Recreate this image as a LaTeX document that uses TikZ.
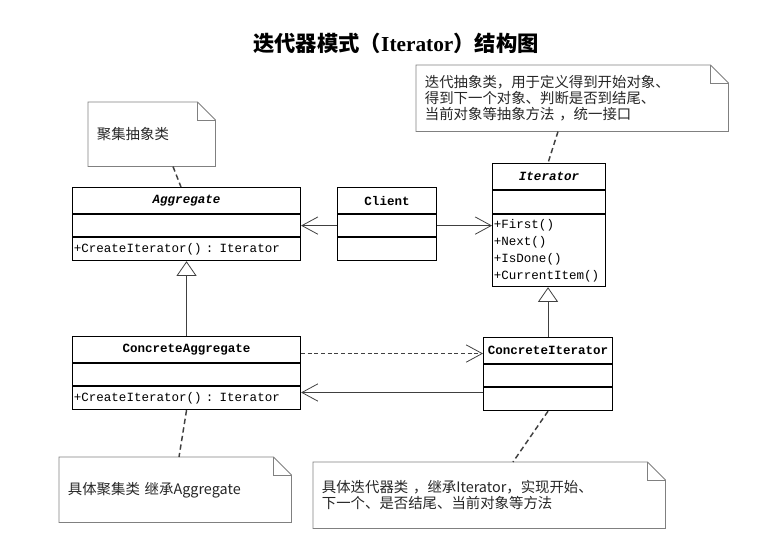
\documentclass[tikz,border=0pt]{standalone}
\usepackage{fontspec}
\setmainfont{Liberation Serif}
\setmonofont{Liberation Mono}
\newfontfamily\cjk{Noto Sans CJK SC}
\usetikzlibrary{arrows.meta,calc,positioning}

\definecolor{noteline}{gray}{0.5}
\definecolor{linkline}{gray}{0.25}
\definecolor{notetext}{gray}{0.15}

\newcommand{\umlfont}{\ttfamily\fontsize{9.4}{12.75}\selectfont}
\newcommand{\notefont}{\cjk\fontsize{10.8}{12}\selectfont}

\tikzset{
  navtip/.tip={Straight Barb[length=12pt,width=13pt]},
  gentip/.tip={Triangle[open,length=11pt,width=15pt]},
  classname/.style={draw, line width=0.8pt, anchor=north west, inner sep=0pt,
    minimum height=19.5pt, font=\umlfont\bfseries},
  classpart/.style={draw, line width=0.8pt, anchor=north west, inner sep=0pt,
    minimum height=16.5pt},
  classops/.style={draw, line width=0.8pt, anchor=north west, inner xsep=1pt,
    inner ysep=0pt, minimum height=17.25pt, align=left, font=\umlfont},
  notebox/.style={anchor=north west, inner xsep=6.5pt, inner ysep=0pt,
    align=left, font=\notefont, text=notetext},
  notebody/.style={draw=noteline, line width=0.6pt},
  notelink/.style={draw=linkline, line width=1.1pt, dash pattern=on 4pt off 2.5pt},
  assoc/.style={draw=linkline, line width=0.6pt, -navtip},
  depend/.style={draw=linkline, line width=0.6pt, dash pattern=on 3pt off 2pt, -navtip},
  inherit/.style={draw=linkline, line width=0.6pt, -gentip}
}

\begin{document}
\begin{tikzpicture}[x=0.75pt, y=-0.75pt]
    \useasboundingbox (0,0) rectangle (779,549);

    % Title
    \node (title) at (396,43) {\fontsize{16}{18}\selectfont\bfseries
        {\cjk 迭代器模式（}Iterator{\cjk ）结构图}};

    % Classes
    \node[classname, minimum width=171pt] (agg-head) at (72,187) {\itshape Aggregate};
    \node[classpart, minimum width=171pt] (agg-attr) at (agg-head.south west) {};
    \node[classops, text width=169pt] (agg-ops) at (agg-attr.south west) {+CreateIterator() : Iterator};

    \node[classname, minimum width=74.25pt] (client-head) at (337,187) {Client};
    \node[classpart, minimum width=74.25pt] (client-attr) at (client-head.south west) {};
    \node[classpart, minimum width=74.25pt, minimum height=17.25pt] (client-ops) at (client-attr.south west) {};

    \node[classname, minimum width=84.75pt] (iter-head) at (492,163) {\itshape Iterator};
    \node[classpart, minimum width=84.75pt, minimum height=17.25pt] (iter-attr) at (iter-head.south west) {};
    \node[classops, text width=82.75pt, minimum height=54pt] (iter-ops) at (iter-attr.south west)
        {+First()\\+Next()\\+IsDone()\\+CurrentItem()};

    \node[classname, minimum width=171pt] (cagg-head) at (72,336) {ConcreteAggregate};
    \node[classpart, minimum width=171pt] (cagg-attr) at (cagg-head.south west) {};
    \node[classops, text width=169pt] (cagg-ops) at (cagg-attr.south west) {+CreateIterator() : Iterator};

    \node[classname, minimum width=96.75pt] (citer-head) at (483,337) {ConcreteIterator};
    \node[classpart, minimum width=96.75pt] (citer-attr) at (citer-head.south west) {};
    \node[classpart, minimum width=96.75pt, minimum height=17.25pt] (citer-ops) at (citer-attr.south west) {};

    % Notes
    \node[notebox, minimum width=95.25pt, minimum height=48pt, text width=82.25pt] (note1) at (88,102) {聚集抽象类};
    \node[notebox, minimum width=234pt, minimum height=49.5pt, text width=221pt] (note2) at (416,65)
        {迭代抽象类，用于定义得到开始对象、\\得到下一个对象、判断是否到结尾、\\当前对象等抽象方法 ，统一接口};
    \node[notebox, minimum width=174pt, minimum height=48.75pt, text width=161pt] (note3) at (59,457)
        {具体聚集类 继承Aggregate};
    \node[notebox, minimum width=264pt, minimum height=49.5pt, text width=251pt] (note4) at (313,462)
        {具体迭代器类 ，继承Iterator，实现开始、\\下一个、是否结尾、当前对象等方法};

    \foreach \n in {note1,note2,note3,note4} {
        \draw[notebody] (\n.north west) -- ($(\n.north east)+(-18,0)$) -- ($(\n.north east)+(0,18)$)
            -- (\n.south east) -- (\n.south west) -- cycle;
        \draw[notebody] ($(\n.north east)+(-18,0)$) |- ($(\n.north east)+(0,18)$);
    }

    % Note links
    \draw[notelink] ($(note1.south west)+(85,0)$) -- ($(agg-head.north west)+(109,0)$);
    \draw[notelink] ($(note2.south west)+(142,0)$) -- ($(iter-head.north west)+(56,0)$);
    \draw[notelink] (cagg-ops.south) -- ($(note3.north west)+(120,0)$);
    \draw[notelink] (citer-ops.south) -- ($(note4.north west)+(200,0)$);

    % Associations
    \draw[assoc] (client-attr.west) -- (agg-attr.east);
    \draw[assoc] (client-attr.east) -- (client-attr.east -| iter-ops.west);
    \draw[depend] ([yshift=-3pt]cagg-head.east) -- ([yshift=-3pt]cagg-head.east -| citer-head.west);
    \draw[assoc] ([yshift=5pt]citer-ops.west) -- ([yshift=5pt]citer-ops.west -| cagg-ops.east);

    % Generalizations
    \draw[inherit] (cagg-head.north) -- (agg-ops.south);
    \draw[inherit] (citer-head.north) -- (citer-head.north |- iter-ops.south);
\end{tikzpicture}
\end{document}
